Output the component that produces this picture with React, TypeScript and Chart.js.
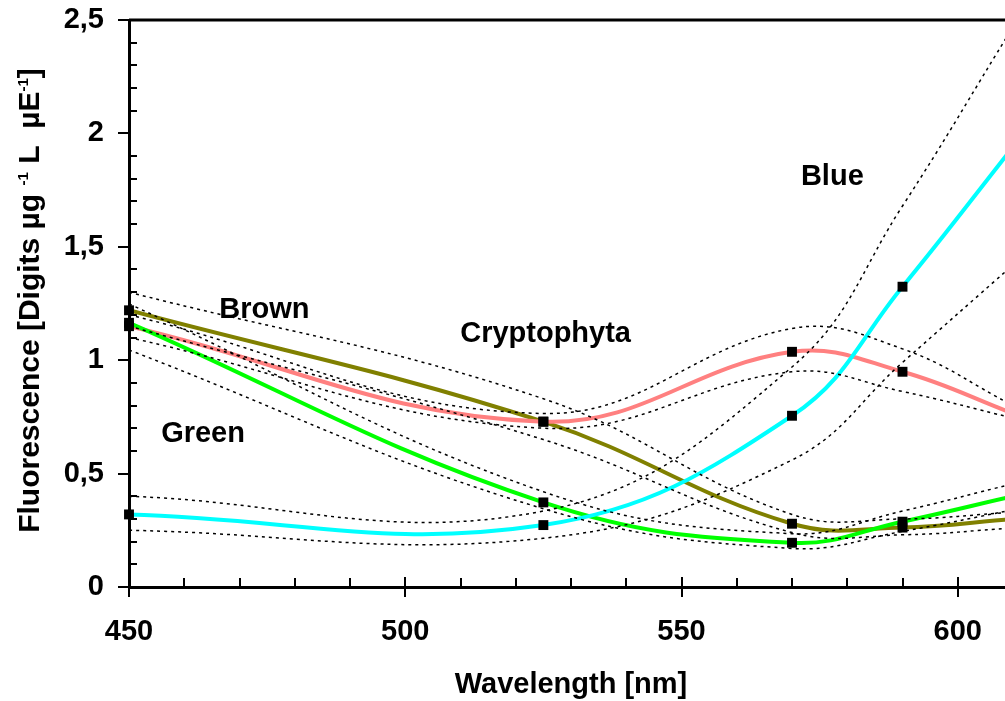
import React, { useEffect, useRef } from 'react';
import { Chart, registerables } from 'chart.js';

Chart.register(...registerables);

// ---- data ----
const WAVELENGTHS = [450, 525, 570, 590, 610];

const BLUE = [0.32, 0.273, 0.755, 1.324, 1.94];
const BLUE_UPPER = [0.4, 0.335, 0.97, 1.68, 2.47];
const BLUE_LOWER = [0.25, 0.215, 0.56, 0.99, 1.42];

const CRYPTO = [1.15, 0.729, 1.037, 0.949, 0.765];
const CRYPTO_UPPER = [1.2, 0.765, 1.14, 1.05, 0.8];
const CRYPTO_LOWER = [1.1, 0.7, 0.949, 0.862, 0.745];

const BROWN = [1.22, 0.729, 0.279, 0.262, 0.3];
const BROWN_UPPER = [1.3, 0.83, 0.32, 0.3, 0.33];
const BROWN_LOWER = [1.15, 0.65, 0.24, 0.23, 0.26];

const GREEN = [1.165, 0.373, 0.195, 0.288, 0.4];
const GREEN_UPPER = [1.248, 0.42, 0.235, 0.335, 0.455];
const GREEN_LOWER = [1.045, 0.345, 0.17, 0.245, 0.34];

const X_LABELED_TICKS = [450, 500, 550, 600];
const Y_LABELED_TICKS = [0, 0.5, 1, 1.5, 2, 2.5];

const GROUP_NAMES = ['Blue', 'Cryptophyta', 'Brown', 'Green'];
// annotation anchors in data units (wavelength, fluorescence)
const GROUP_NAME_X = [577.3, 525.4, 474.5, 463.4];
const GROUP_NAME_Y = [1.817, 1.124, 1.232, 0.685];

const X_TITLE = 'Wavelength [nm]';
const Y_TITLE_PARTS: { text: string; sup: boolean }[] = [
  { text: 'Fluorescence [Digits µg ', sup: false },
  { text: '-1', sup: true },
  { text: ' L  µE', sup: false },
  { text: '-1', sup: true },
  { text: ']', sup: false },
];

const FONT = '"Liberation Sans", Arial, Helvetica, sans-serif';

const toPoints = (ys: number[]) => WAVELENGTHS.map((x, i) => ({ x, y: ys[i] }));

const near = (a: number, b: number) => Math.abs(a - b) < 1e-6;

export default function App() {
  const canvasRef = useRef<HTMLCanvasElement | null>(null);

  useEffect(() => {
    document.body.style.margin = '0';
    document.body.style.overflow = 'hidden';
    document.documentElement.style.overflow = 'hidden';
    const canvas = canvasRef.current;
    if (!canvas) return;

    const TENSION = 0.4;

    const mainLine = (label: string, ys: number[], color: string) => ({
      label,
      data: toPoints(ys),
      borderColor: color,
      backgroundColor: color,
      borderWidth: 4,
      pointRadius: 0,
      tension: TENSION,
      fill: false,
      order: 2,
    });
    const band = (label: string, ys: number[]) => ({
      label,
      data: toPoints(ys),
      borderColor: '#000000',
      borderWidth: 1.5,
      borderDash: [3, 4],
      pointRadius: 0,
      tension: TENSION,
      fill: false,
      order: 1,
    });
    const markers = (label: string, ys: number[]) => ({
      label,
      data: toPoints(ys),
      showLine: false,
      pointStyle: 'rect',
      pointRadius: 7,
      pointBackgroundColor: '#000000',
      pointBorderWidth: 0,
      clip: false,
      order: 0,
    });

    const axisDecorPlugin = {
      id: 'axisDecor',
      beforeDatasetsDraw(chart: any) {
        const { ctx, chartArea, scales } = chart;
        const xs = scales.x;
        const ysc = scales.y;
        ctx.save();
        ctx.strokeStyle = '#000';
        // top frame line
        ctx.lineWidth = 3;
        ctx.beginPath();
        ctx.moveTo(chartArea.left, chartArea.top);
        ctx.lineTo(chartArea.right, chartArea.top);
        ctx.stroke();
        // x ticks
        ctx.lineWidth = 2;
        xs.ticks.forEach((t: any) => {
          if (t.value > xs.max + 1e-6 || t.value < xs.min - 1e-6) return;
          const px = Math.round(xs.getPixelForValue(t.value));
          const major = X_LABELED_TICKS.some((v) => near(v, t.value));
          ctx.beginPath();
          if (major) {
            ctx.moveTo(px, chartArea.bottom - 10);
            ctx.lineTo(px, chartArea.bottom + 10);
          } else {
            ctx.moveTo(px, chartArea.bottom - 9);
            ctx.lineTo(px, chartArea.bottom);
          }
          ctx.stroke();
        });
        // y ticks
        ysc.ticks.forEach((t: any) => {
          const py = Math.round(ysc.getPixelForValue(t.value));
          const major = Y_LABELED_TICKS.some((v) => near(v, t.value));
          ctx.beginPath();
          if (major) {
            ctx.moveTo(chartArea.left - 11, py);
            ctx.lineTo(chartArea.left, py);
          } else {
            ctx.moveTo(chartArea.left, py);
            ctx.lineTo(chartArea.left + 8, py);
          }
          ctx.stroke();
        });
        ctx.restore();
      },
      afterDatasetsDraw(chart: any) {
        const { ctx, scales } = chart;
        ctx.save();
        ctx.fillStyle = '#000';
        ctx.font = `bold 29px ${FONT}`;
        ctx.textAlign = 'center';
        ctx.textBaseline = 'alphabetic';
        GROUP_NAMES.forEach((name, i) => {
          const px = scales.x.getPixelForValue(GROUP_NAME_X[i]);
          const py = scales.y.getPixelForValue(GROUP_NAME_Y[i]);
          ctx.fillText(name, px, py + 10.4);
        });
        ctx.restore();
      },
      afterDraw(chart: any) {
        const { ctx, chartArea } = chart;
        const mainSize = 30;
        const supSize = 15;
        ctx.save();
        ctx.fillStyle = '#000';
        ctx.textBaseline = 'alphabetic';
        ctx.textAlign = 'left';
        let total = 0;
        const widths = Y_TITLE_PARTS.map((p) => {
          ctx.font = `bold ${p.sup ? supSize : mainSize}px ${FONT}`;
          const w = ctx.measureText(p.text).width;
          total += w;
          return w;
        });
        const centerY = (chartArea.top + chartArea.bottom) / 2 - 3;
        ctx.translate(39, centerY + total / 2);
        ctx.rotate(-Math.PI / 2);
        let pos = 0;
        Y_TITLE_PARTS.forEach((p, i) => {
          ctx.font = `bold ${p.sup ? supSize : mainSize}px ${FONT}`;
          const lift = p.sup ? -0.716 * (mainSize - supSize) : 0;
          ctx.fillText(p.text, pos, lift);
          pos += widths[i];
        });
        ctx.restore();
      },
    };

    const chart = new Chart(canvas, {
      type: 'line',
      data: {
        datasets: [
          markers('Blue points', BLUE),
          markers('Green points', GREEN),
          markers('Cryptophyta points', CRYPTO),
          markers('Brown points', BROWN),
          band('Blue upper', BLUE_UPPER),
          band('Blue lower', BLUE_LOWER),
          band('Cryptophyta upper', CRYPTO_UPPER),
          band('Cryptophyta lower', CRYPTO_LOWER),
          band('Brown upper', BROWN_UPPER),
          band('Brown lower', BROWN_LOWER),
          band('Green upper', GREEN_UPPER),
          band('Green lower', GREEN_LOWER),
          mainLine('Blue', BLUE, '#00FFFF'),
          mainLine('Green', GREEN, '#00FF00'),
          mainLine('Cryptophyta', CRYPTO, '#FF8080'),
          mainLine('Brown', BROWN, '#808000'),
        ] as any,
      },
      options: {
        animation: false,
        responsive: false,
        events: [],
        layout: { padding: { top: 20, right: 4, left: 0, bottom: 0 } },
        plugins: {
          legend: { display: false },
          tooltip: { enabled: false },
          title: { display: false },
        },
        scales: {
          x: {
            type: 'linear',
            min: 450,
            max: 610,
            afterFit: (s: any) => {
              s.height = 114;
              s.paddingLeft = 0;
              s.paddingRight = 0;
            },
            grid: { display: false, drawTicks: false },
            border: { display: true, color: '#000', width: 3 },
            ticks: {
              stepSize: 10,
              autoSkip: false,
              maxRotation: 0,
              padding: 28,
              color: '#000',
              font: { size: 29, weight: 'bold', family: FONT },
              callback: (v: any) => (X_LABELED_TICKS.some((t) => near(t, Number(v))) ? String(v) : ''),
            },
            title: {
              display: true,
              text: X_TITLE,
              color: '#000',
              font: { size: 29, weight: 'bold', family: FONT, lineHeight: 1 },
              padding: { top: 0, bottom: 2 },
            },
          },
          y: {
            type: 'linear',
            min: 0,
            max: 2.5,
            afterFit: (s: any) => {
              s.width = 129;
              s.paddingTop = 0;
              s.paddingBottom = 0;
            },
            grid: { display: false, drawTicks: false },
            border: { display: true, color: '#000', width: 3 },
            ticks: {
              stepSize: 0.1,
              autoSkip: false,
              padding: 25,
              color: '#000',
              font: { size: 29, weight: 'bold', family: FONT },
              callback: (v: any) => {
                const n = Number(v);
                const hit = Y_LABELED_TICKS.find((t) => near(t, n));
                return hit === undefined ? '' : String(hit).replace('.', ',');
              },
            },
          },
        },
      } as any,
      plugins: [axisDecorPlugin],
    });

    return () => {
      chart.destroy();
    };
  }, []);

  return (
    <div style={{ width: 1005, height: 701, overflow: 'hidden', position: 'relative', background: '#fff' }}>
      <canvas ref={canvasRef} width={1020} height={701} style={{ display: 'block', width: 1020, height: 701 }} />
    </div>
  );
}
